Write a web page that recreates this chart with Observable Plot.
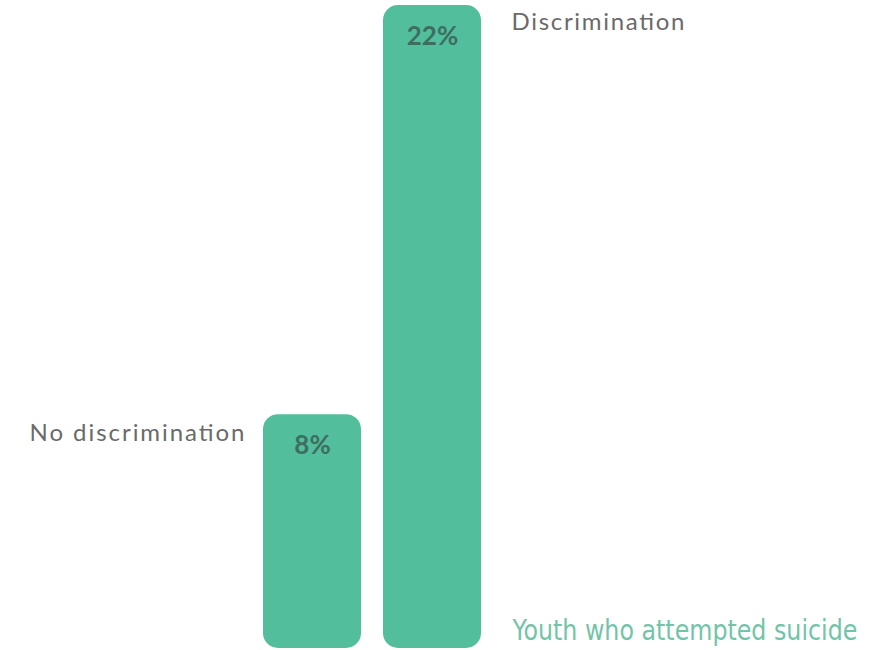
<!DOCTYPE html>
<html>
<head>
<meta charset="utf-8">
<script src="https://cdn.jsdelivr.net/npm/d3@7"></script>
<script src="https://cdn.jsdelivr.net/npm/@observablehq/plot@0.6"></script>
<style>
  html, body { margin: 0; padding: 0; background: #ffffff; }
  #chart svg { display: block; }
</style>
</head>
<body>
<div id="chart"></div>
<script>
const categories = ["No discrimination", "Discrimination"];
const values = [8, 22];
const valueLabels = ["8%", "22%"];
const seriesTitle = "Youth who attempted suicide";

const data = categories.map((c, i) => ({category: c, value: values[i], label: valueLabels[i]}));

const teal = "#53be9c";

const chart = Plot.plot({
  width: 884,
  height: 650,
  marginLeft: 262,
  marginRight: 402,
  marginTop: 5,
  marginBottom: 2,
  style: {background: "#ffffff", fontFamily: "Lato, sans-serif"},
  x: {domain: categories, paddingInner: 0.18, paddingOuter: 0, axis: null},
  y: {domain: [0, 22], axis: null},
  marks: [
    Plot.barY(data, {x: "category", y: "value", fill: teal, rx: 15}),
    Plot.text(data, {
      x: "category", y: "value", text: "label",
      lineAnchor: "bottom", dy: 39,
      fontSize: 26, fontWeight: "bold", fill: "#3e6e60"
    }),
    Plot.text([data[0]], {
      x: "category", y: "value", text: "category",
      textAnchor: "end", lineAnchor: "bottom", dx: -68, dy: 26,
      fontSize: 24, fill: "#6a6a6a"
    }),
    Plot.text([data[1]], {
      x: "category", y: "value", text: "category",
      textAnchor: "start", lineAnchor: "bottom", dx: 79, dy: 24,
      fontSize: 24, fill: "#6a6a6a"
    }),
    Plot.text([seriesTitle], {
      frameAnchor: "bottom-right", text: d => d,
      textAnchor: "start", lineAnchor: "bottom",
      dx: 30, dy: -9,
      fontSize: 29, fontFamily: "'DejaVu Sans Condensed', 'DejaVu Sans', sans-serif",
      fill: "#72c4a8"
    })
  ]
});

document.getElementById("chart").appendChild(chart);

// Match the widths of the original typefaces
const spacingWidths = {
  [categories[0]]: 215,
  [categories[1]]: 173
};
d3.select(chart).selectAll("text").each(function() {
  const t = this.textContent;
  if (spacingWidths[t]) {
    d3.select(this).attr("textLength", spacingWidths[t]).attr("lengthAdjust", "spacing");
  } else if (t === seriesTitle) {
    // condense horizontally (the original uses a narrow typeface)
    const w = this.getComputedTextLength();
    const s = 345 / w;
    const x = +(this.getAttribute("x") || 0);
    const prev = this.getAttribute("transform") || "";
    this.setAttribute("transform", `${prev} translate(${x},0) scale(${s},1) translate(${-x},0)`.trim());
  }
});
</script>
</body>
</html>
